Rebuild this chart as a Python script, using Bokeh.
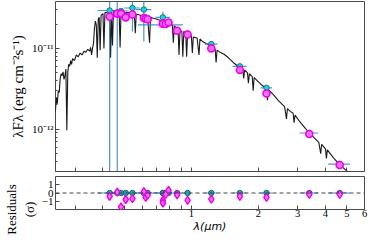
import numpy as np
from bokeh.plotting import figure
from bokeh.models import Range1d, FixedTicker, CustomJSTickFormatter, Span, ColumnDataSource
from bokeh.layouts import column
from bokeh.embed import file_html
from bokeh.resources import INLINE

# ---- model spectrum ----
spec_wave = [0.2448, 0.2472, 0.2496, 0.2521, 0.2547, 0.2572, 0.2597, 0.2623, 0.2649, 0.2675,
             0.2702, 0.2728, 0.2755, 0.2783, 0.2810, 0.2838, 0.2866, 0.2894, 0.2923, 0.2981,
             0.3040, 0.3101, 0.3162, 0.3225, 0.3289, 0.3354, 0.3421, 0.3489, 0.3524, 0.3559,
             0.3594, 0.3630, 0.3666, 0.3702, 0.3738, 0.3775, 0.3813, 0.3851, 0.3889, 0.3927,
             0.4005, 0.4045, 0.4085, 0.4166, 0.4207, 0.4291, 0.4333, 0.4375, 0.4419, 0.4462,
             0.4551, 0.4642, 0.4734, 0.4781, 0.4828, 0.4924, 0.5021, 0.5121, 0.5223, 0.5326,
             0.5433, 0.5540, 0.5595, 0.5650, 0.5762, 0.5935, 0.6113, 0.6358, 0.6485, 0.6549,
             0.6746, 0.7017, 0.7227, 0.7444, 0.7743, 0.7975, 0.8214, 0.8295, 0.8377, 0.8543,
             0.8713, 0.8799, 0.8887, 0.9064, 0.9153, 0.9243, 0.9427, 0.9520, 0.9614, 0.9805,
             1.0000, 1.0099, 1.0199, 1.0608, 1.0819, 1.0925, 1.1253, 1.1705, 1.2294, 1.2789,
             1.2915, 1.3043, 1.3434, 1.3974, 1.4678, 1.5419, 1.6196, 1.6517, 1.7014, 1.7182,
             1.7352, 1.7869, 1.8046, 1.8224, 1.8769, 1.8955, 1.9143, 1.9916, 2.0717, 2.1762,
             2.1977, 2.2195, 2.3310, 2.4730, 2.6236, 2.6758, 2.7022, 2.7825, 2.8663, 2.8946,
             2.9231, 3.0703, 3.2250, 3.3884, 3.5590, 3.7380, 3.8127, 3.8504, 4.0051, 4.0446,
             4.0844, 4.3351, 4.6416, 4.9245, 5.1218, 5.2750]
spec_flux = [1.663e-12, 2.485e-12, 2.061e-12, 2.997e-12, 2.841e-12, 4.244e-12, 4.853e-12, 4.600e-12, 5.121e-12, 4.132e-12,
             4.600e-12, 5.549e-12, 9.736e-13, 5.121e-12, 6.344e-12, 6.013e-12, 7.061e-12, 6.344e-12, 7.449e-12, 7.061e-12,
             8.291e-12, 7.859e-12, 8.747e-12, 8.291e-12, 9.228e-12, 8.985e-12, 9.736e-12, 9.228e-12, 1.027e-11, 8.291e-12,
             1.000e-11, 1.143e-11, 1.755e-11, 2.174e-11, 1.953e-11, 7.651e-12, 2.294e-11, 2.420e-11, 9.479e-12, 2.553e-11,
             2.693e-11, 1.000e-11, 2.766e-11, 2.766e-11, 2.841e-11, 2.841e-11, 7.651e-12, 2.841e-11, 1.084e-11, 2.841e-11,
             2.918e-11, 2.918e-11, 2.841e-11, 1.027e-11, 2.841e-11, 2.841e-11, 2.766e-11, 2.766e-11, 2.766e-11, 2.693e-11,
             2.693e-11, 2.622e-11, 1.535e-11, 2.622e-11, 2.622e-11, 2.553e-11, 2.485e-11, 2.420e-11, 1.174e-11, 2.420e-11,
             2.356e-11, 2.294e-11, 2.233e-11, 2.174e-11, 2.061e-11, 2.006e-11, 1.953e-11, 1.174e-11, 1.901e-11, 1.803e-11,
             1.708e-11, 8.291e-12, 1.663e-11, 1.619e-11, 7.859e-12, 1.619e-11, 1.576e-11, 7.859e-12, 1.535e-11, 1.494e-11,
             1.416e-11, 8.747e-12, 1.379e-11, 1.342e-11, 8.291e-12, 1.307e-11, 1.206e-11, 1.143e-11, 1.084e-11, 9.736e-12,
             6.693e-12, 9.479e-12, 8.985e-12, 8.516e-12, 7.651e-12, 6.693e-12, 6.013e-12, 5.854e-12, 5.549e-12, 4.244e-12,
             5.402e-12, 4.985e-12, 3.713e-12, 4.853e-12, 4.478e-12, 2.997e-12, 4.360e-12, 3.917e-12, 3.519e-12, 3.162e-12,
             2.293e-12, 3.078e-12, 2.693e-12, 2.233e-12, 1.901e-12, 1.342e-12, 1.803e-12, 1.663e-12, 1.576e-12, 1.206e-12,
             1.494e-12, 1.239e-12, 1.055e-12, 8.985e-13, 7.859e-13, 6.873e-13, 4.985e-13, 6.516e-13, 5.700e-13, 4.360e-13,
             5.549e-13, 4.478e-13, 3.614e-13, 3.162e-13, 2.841e-13, 2.553e-13]

# ---- photometry ----
phot_wave = [0.4291, 0.4642, 0.4828, 0.5070, 0.5433, 0.6113, 0.6233, 0.6358, 0.7444, 0.7450,
             0.7667, 0.7897, 0.8627, 0.9614, 1.229, 1.652, 2.176, 3.388, 4.642]
phot_wave_err = [0.05, 0.045, 0.04, 0.03, 0.045, 0.05, 0.03, 0.03, 0.055, 0.17,
                 0.03, 0.03, 0.03, 0.03, 0.08, 0.12, 0.13, 0.33, 0.52]
obs_flux = [2.94e-11, 2.74e-11, 2.90e-11, 2.48e-11, 3.16e-11, 3.02e-11, 2.40e-11, 2.33e-11, 2.42e-11, 1.95e-11,
            2.05e-11, 2.06e-11, 1.67e-11, 1.52e-11, 1.13e-11, 6.0e-12, 3.25e-12, 8.98e-13, 3.71e-13]
obs_err = [4.0e-11, 3.5e-11, 2.0e-12, 1.5e-12, 1.54e-11, 1.8e-11, 1.2e-12, 1.2e-12, 4.2e-12, 8e-13,
           1e-12, 1e-12, 8e-13, 8e-13, 1.0e-12, 4e-13, 2e-13, 4e-14, 2e-14]
model_flux = [2.466e-11, 2.693e-11, 2.693e-11, 2.420e-11, 2.622e-11, 2.375e-11, 2.325e-11, 2.294e-11, 2.022e-11, 2.022e-11,
              2.006e-11, 2.088e-11, 1.650e-11, 1.482e-11, 1.000e-11, 5.402e-12, 2.767e-12, 8.747e-13, 3.614e-13]
residuals = [-0.4, 0.1, -1.6, -0.75, -0.65, 0.15, -0.5, -0.25, -0.85, -1.15,
             -0.15, 0.3, -0.2, -0.85, -0.7, -0.4, -0.5, -0.15, -0.15]

# ---- axis ticks ----
x_ticks = [0.3, 0.4, 0.5, 0.6, 0.7, 0.8, 0.9, 1, 2, 3, 4, 5, 6]
y_major = [1e-12, 1e-11]
y_minor = [3e-13, 4e-13, 5e-13, 6e-13, 7e-13, 8e-13, 9e-13,
           2e-12, 3e-12, 4e-12, 5e-12, 6e-12, 7e-12, 8e-12, 9e-12, 2e-11, 3e-11]
res_ticks = [-1, 0, 1]

w = np.array(phot_wave)
we = np.array(phot_wave_err)
fo = np.array(obs_flux)
fe = np.array(obs_err)
src = ColumnDataSource(dict(
    w=w, fo=fo, fm=np.array(model_flux), res=np.array(residuals), zero=np.zeros(len(w)),
    x0=w - we, x1=w + we, ylo=np.maximum(fo - fe, 1e-15), yhi=fo + fe))

SERIF = "Liberation Serif"
FRAME = "#4a4a4a"
EB = "#2f7fc0"

xr = Range1d(0.245, 6.0)

def style(p):
    p.outline_line_color = FRAME
    p.outline_line_width = 1
    p.xgrid.visible = False
    p.ygrid.visible = False
    for ax in (p.xaxis, p.yaxis):
        ax.axis_line_color = None
        ax.major_tick_in = 4
        ax.major_tick_out = 0
        ax.minor_tick_in = 2
        ax.minor_tick_out = 0
        ax.major_tick_line_color = FRAME
        ax.minor_tick_line_color = FRAME
        ax.major_label_text_font = SERIF
        ax.major_label_text_font_size = "11px"
        ax.major_label_text_color = "black"
        ax.major_label_standoff = 2
        ax.axis_label_text_font = SERIF
        ax.axis_label_text_font_style = "normal"
        ax.axis_label_text_color = "black"

p = figure(width=370, height=173, x_axis_type="log", y_axis_type="log",
           x_range=xr, y_range=Range1d(3.0e-13, 3.8e-11),
           output_backend="svg", toolbar_location=None,
           min_border_left=46, min_border_right=6, min_border_top=1, min_border_bottom=2)
style(p)
p.xaxis.ticker = FixedTicker(ticks=x_ticks, minor_ticks=[])
p.xaxis.formatter = CustomJSTickFormatter(code="return '';")
p.xaxis.major_label_text_font_size = "0px"
p.xaxis.major_label_standoff = 0
p.yaxis.ticker = FixedTicker(ticks=y_major, minor_ticks=y_minor)
p.yaxis.formatter = CustomJSTickFormatter(code="""
const sup = {"-":"\u207b","0":"\u2070","1":"\u00b9","2":"\u00b2","3":"\u00b3","4":"\u2074","5":"\u2075","6":"\u2076","7":"\u2077","8":"\u2078","9":"\u2079"};
const e = Math.round(Math.log10(tick));
return "10" + String(e).split("").map(c => sup[c]).join("");
""")
p.yaxis.axis_label = "λFλ (erg cm⁻²s⁻¹)"
p.yaxis.axis_label_text_font_size = "15px"
p.yaxis.axis_label_standoff = 3

p.line(spec_wave, spec_flux, line_color="black", line_width=1.1, line_alpha=0.9)
p.segment(x0="x0", x1="x1", y0="fo", y1="fo", source=src, line_color=EB, line_width=1.2, line_alpha=0.85)
p.segment(x0="w", x1="w", y0="ylo", y1="yhi", source=src, line_color=EB, line_width=1.2, line_alpha=0.85)
p.scatter("w", "fo", source=src, size=5.5, fill_color="#14d4dc", line_color="#106070", line_width=0.8)
p.scatter("w", "fm", source=src, size=7, fill_color="#ff70ff", line_color="#ee00ee", line_width=1.6)

r = figure(width=370, height=62, x_axis_type="log",
           x_range=xr, y_range=Range1d(-1.9, 1.9),
           output_backend="svg", toolbar_location=None,
           min_border_left=46, min_border_right=6, min_border_top=3, min_border_bottom=1)
style(r)
r.xaxis.ticker = FixedTicker(ticks=x_ticks, minor_ticks=[])
r.xaxis.formatter = CustomJSTickFormatter(code="""
const v = Math.round(tick * 10) / 10;
return v >= 1 ? v.toFixed(0) : '';
""")
r.xaxis.major_label_standoff = 0
r.xaxis.major_label_text_font_size = "10.5px"
r.xaxis.axis_label = "λ(μm)"
r.xaxis.axis_label_text_font = "DejaVu Sans"
r.xaxis.axis_label_text_font_style = "italic"
r.xaxis.axis_label_text_font_size = "11px"
r.xaxis.axis_label_standoff = 0
r.yaxis.ticker = FixedTicker(ticks=res_ticks, minor_ticks=[])
r.yaxis.formatter = CustomJSTickFormatter(code="return tick < 0 ? '\u2212' + Math.abs(tick) : String(tick);")
r.yaxis.axis_label = "Residuals\n(σ)"
r.yaxis.axis_label_text_font_size = "13px"
r.yaxis.axis_label_standoff = 2
r.yaxis.axis_label_align = "start"

r.add_layout(Span(location=0, dimension="width", line_color="#444444", line_dash="4 3", line_width=1))
r.segment(x0="x0", x1="x1", y0="zero", y1="zero", source=src, line_color=EB, line_width=1.2, line_alpha=0.85)
r.scatter("w", "zero", source=src, size=5.5, fill_color="#14a8b0", line_color="#105060", line_width=0.8)
r.scatter("w", "res", source=src, size=8, marker="diamond", fill_color="#ff70ff", line_color="#ee00ee", line_width=1.4)

layout = column(p, r, spacing=0)
open("out.html", "w").write(file_html(layout, INLINE))
